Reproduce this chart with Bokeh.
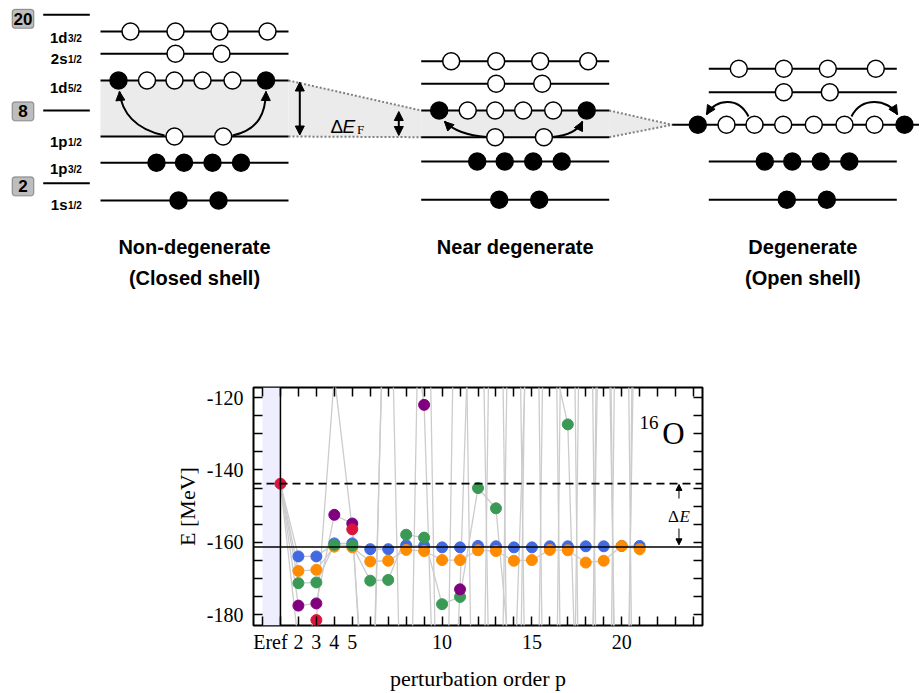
import math
from bokeh.plotting import figure
from bokeh.models import (Range1d, FixedTicker, LinearAxis, Label, Span, BoxAnnotation,
                          Arrow, NormalHead)
from bokeh.core.properties import value
from bokeh.embed import file_html
from bokeh.resources import INLINE

# ------------------------------------------------------------------
# Data: perturbation series for 16O  (order 1 = E_ref)
# ------------------------------------------------------------------
p_orders = list(range(1, 22))
E_blue = [-143.8, -163.9, -163.9, -160.3, -160.3, -161.9, -161.9, -160.8, -161.0, -161.4, -161.4,
          -161.0, -161.1, -161.4, -161.4, -161.1, -161.1, -161.1, -161.1, -161.0, -161.0]
E_orange = [-143.8, -167.9, -167.6, -161.2, -161.4, -165.3, -165.1, -162.1, -162.4, -164.9, -164.9,
            -162.2, -162.4, -165.1, -164.9, -162.1, -162.2, -165.6, -165.1, -161.0, -161.9]
E_green = [-143.8, -171.3, -171.1, -160.7, -160.9, -170.6, -170.4, -157.9, -158.7, -177.1, -175.1,
           -145.0, -150.6, -205.0, -60.0, -105.0, -127.4, -290.0, -20.0, -300.0, -10.0]
E_purple = [-143.8, -177.5, -176.9, -152.4, -154.8, -240.0, -40.0, -85.0, -122.0, -275.0, -173.0,
            -20.0, -310.0, 10.0, -330.0, 30.0, -350.0, 40.0, -370.0, 60.0, -390.0]
E_red = [-143.8, -188.0, -181.5, -114.0, -156.4, -230.0, -50.0, -280.0, -10.0, -300.0, 10.0,
         -320.0, 30.0, -340.0, 40.0, -360.0, 60.0, -380.0, 80.0, -400.0, 100.0]
series = [E_blue, E_orange, E_green, E_purple, E_red]
series_colors = ["#4169E1", "#FF8C00", "#3A9A55", "#800080", "#DC143C"]
E_ref = -143.8
E_exact = -161.3
NB = "\u00a0"
x_tick_labels = {1: "Eref" + NB * 4, 2: "2", 3: "3", 4: "4", 5: "5", 10: "10", 15: "15", 20: "20"}
y_tick_labels = {-180: "-180", -160: "-160", -140: "-140", -120: "-120"}

# ------------------------------------------------------------------
# Data: shell-model schematic
# ------------------------------------------------------------------
level_names = ["1d", "2s", "1d", "1p", "1p", "1s"]
level_subs = ["3/2", "1/2", "5/2", "1/2", "3/2", "1/2"]
slot_pos = [[30, 75, 119, 167], [75, 121], [18, 46.5, 74, 102, 132, 165.5],
            [74, 122.7], [56, 83.5, 112, 140.5], [78, 118]]
slot_fill = [[0, 0, 0, 0], [0, 0], [1, 0, 0, 0, 0, 1], [0, 0], [1, 1, 1, 1], [1, 1]]
merged_pos = [-11, 17.7, 45.7, 74.4, 105, 135.7, 165.7, 195.7]
merged_fill = [1, 0, 0, 0, 0, 0, 0, 1]
panel_x0 = [100, 420.7, 708.3]
level_len = 188
panel_levels = [[31, 53.3, 80, 136, 162.3, 200],
                [60.7, 83.3, 110, 136.7, 161, 199.3],
                [68.3, 91.7, 124.3, 124.3, 161, 199.3]]
panel_titles = [["Non-degenerate", "(Closed shell)"], ["Near degenerate"], ["Degenerate", "(Open shell)"]]
magic_numbers = ["20", "8", "2"]
magic_line_y = [14.3, 110, 182.7]
magic_box_y = [18.3, 110.8, 185.8]

SANS = "Liberation Sans"
SERIF = "Liberation Serif"

# ------------------------------------------------------------------
# Top: schematic figure (pixel-like coordinates, y downwards)
# ------------------------------------------------------------------
d = figure(width=919, height=330, x_range=Range1d(0, 919), y_range=Range1d(330, 0),
           output_backend="svg", toolbar_location=None, x_axis_location=None,
           y_axis_location=None, min_border=0)
d.grid.visible = False
d.outline_line_color = None
d.background_fill_color = "white"
d.border_fill_color = "white"

x0a, x0b, x0c = panel_x0
L1, L2, L3 = panel_levels
grey = "#ebebeb"
d.patch([x0a, x0a + level_len, x0a + level_len, x0a], [L1[2], L1[2], L1[3], L1[3]],
        fill_color=grey, line_color=None)
d.patch([x0a + level_len, x0b, x0b, x0a + level_len], [L1[2], L2[2], L2[3], L1[3]],
        fill_color=grey, line_color=None)
d.patch([x0b, x0b + level_len, x0b + level_len, x0b], [L2[2], L2[2], L2[3], L2[3]],
        fill_color=grey, line_color=None)
tip_x = 671.7
d.patch([x0b + level_len, tip_x, x0b + level_len], [L2[2], L3[2], L2[3]],
        fill_color=grey, line_color=None)
dot_kw = dict(line_color="#808080", line_width=2, line_dash="2 2")
d.line([x0a + level_len, x0b], [L1[2], L2[2]], **dot_kw)
d.line([x0a + level_len, x0b], [L1[3], L2[3]], **dot_kw)
d.line([x0b + level_len, tip_x], [L2[2], L3[2]], **dot_kw)
d.line([x0b + level_len, tip_x], [L2[3], L3[2]], **dot_kw)

sx0, sy0, sx1, sy1 = [], [], [], []
for pi_, (x0, levs) in enumerate(zip(panel_x0, panel_levels)):
    for li, y in enumerate(levs):
        if pi_ == 2 and li in (2, 3):
            continue
        sx0.append(x0); sx1.append(x0 + level_len); sy0.append(y); sy1.append(y)
sx0.append(tip_x); sx1.append(919); sy0.append(L3[2]); sy1.append(L3[2])
for y in magic_line_y:
    sx0.append(42.7); sx1.append(89.3); sy0.append(y); sy1.append(y)
d.segment(sx0, sy0, sx1, sy1, line_color="black", line_width=2)

curves = [((164, 135), (135, 129), (121, 112), (119, 91)),
          ((232, 135), (259, 129), (265, 112), (265.5, 91)),
          ((486, 136.5), (466, 135), (452, 129), (444, 121)),
          ((552, 136.5), (570, 135), (578, 129), (582, 121)),
          ((748, 116), (738, 96), (716, 98), (706, 114)),
          ((851, 116), (861, 96), (887, 98), (897, 114))]
for s, c1, c2, e in curves:
    d.bezier(x0=[s[0]], y0=[s[1]], x1=[e[0]], y1=[e[1]], cx0=[c1[0]], cy0=[c1[1]],
             cx1=[c2[0]], cy1=[c2[1]], line_color="black", line_width=2)
    tx, ty = e[0] - c2[0], e[1] - c2[1]
    n = math.hypot(tx, ty)
    d.add_layout(Arrow(end=NormalHead(size=9, fill_color="black", line_color="black"),
                       x_start=e[0] - 3 * tx / n, y_start=e[1] - 3 * ty / n, x_end=e[0], y_end=e[1],
                       line_color="black", line_width=2))

cx, cy, cf = [], [], []
for pi_, (x0, levs) in enumerate(zip(panel_x0, panel_levels)):
    if pi_ < 2:
        for li, y in enumerate(levs):
            for pos, f in zip(slot_pos[li], slot_fill[li]):
                cx.append(x0 + pos); cy.append(y); cf.append("black" if f else "white")
    else:
        for li in (0, 1, 4, 5):
            for pos, f in zip(slot_pos[li], slot_fill[li]):
                cx.append(x0 + pos); cy.append(levs[li]); cf.append("black" if f else "white")
        for pos, f in zip(merged_pos, merged_fill):
            cx.append(x0 + pos); cy.append(levs[2]); cf.append("black" if f else "white")
d.scatter(cx, cy, size=17, marker="circle", fill_color=cf, line_color="black", line_width=1.5)

for xa, ya, yb in [(299.3, 81.5, 134.5), (398.3, 111, 135)]:
    d.add_layout(Arrow(start=NormalHead(size=9, fill_color="black", line_color="black"),
                       end=NormalHead(size=9, fill_color="black", line_color="black"),
                       x_start=xa, y_start=ya, x_end=xa, y_end=yb,
                       line_color="black", line_width=2))
d.text([330], [126], text=["\u0394"], text_font=value(SANS), text_font_size="19px",
       text_align="left", text_baseline="alphabetic", text_color="black")
d.text([342], [126], text=["E"], text_font=value(SANS), text_font_size="19px",
       text_font_style="italic", text_align="left", text_baseline="alphabetic", text_color="black")
d.text([356.5], [128.5], text=["F"], text_font=value(SERIF), text_font_size="13px",
       text_align="left", text_baseline="alphabetic", text_color="black")

for lab, yb in zip(magic_numbers, magic_box_y):
    d.add_layout(BoxAnnotation(left=11.7, right=33.3, top=yb - 9.5, bottom=yb + 9.5,
                               fill_color="#bdbdbd", fill_alpha=1, line_color="black",
                               line_width=1.3, border_radius=3, level="underlay"))
d.text([22.5] * 3, magic_box_y, text=magic_numbers, text_font=value(SANS), text_font_size="17px",
       text_font_style="bold", text_align="center", text_baseline="middle", text_color="black")

label_base = [37.3, 58.3, 87.3, 141, 167.7, 204]
d.text([67] * 6, label_base, text=level_names, text_font=value(SANS), text_font_size="15px",
       text_font_style="bold", text_align="right", text_baseline="alphabetic", text_color="black")
d.text([67.5] * 6, [b + 1 for b in label_base], text=level_subs, text_font=value(SANS),
       text_font_size="10px", text_font_style="bold", text_align="left",
       text_baseline="alphabetic", text_color="black")

tx_, ty_, tt_ = [], [], []
for x0, lines in zip(panel_x0, panel_titles):
    for k, t in enumerate(lines):
        tx_.append(x0 + level_len / 2); ty_.append(246 + 31 * k); tt_.append(t)
d.text(tx_, ty_, text=tt_, text_font=value(SANS), text_font_size="20px", text_font_style="bold",
       text_align="center", text_baseline="middle", text_color="black")

# ------------------------------------------------------------------
# Bottom: perturbation series plot
# ------------------------------------------------------------------
p = figure(width=919, height=363, x_range=Range1d(-0.5, 24.5), y_range=Range1d(-183.0, -117.2),
           output_backend="svg", toolbar_location=None,
           min_border_left=253, min_border_right=217, min_border_top=57, min_border_bottom=68)
p.grid.visible = False
p.outline_line_color = "black"
p.outline_line_width = 2
p.background_fill_color = "white"
p.border_fill_color = "white"

xt = list(range(0, 25))
yt = list(range(-180, -115, 5))

def style_axis(ax, ticks, overrides, size="20px"):
    ax.ticker = FixedTicker(ticks=ticks, minor_ticks=[])
    ax.major_label_overrides = overrides
    ax.major_tick_in = 9
    ax.major_tick_out = 0
    ax.minor_tick_line_color = None
    ax.axis_line_color = None
    ax.major_tick_line_color = "black"
    ax.major_tick_line_width = 1.5
    ax.major_label_text_font = SERIF
    ax.major_label_text_font_size = size
    ax.major_label_text_color = "black"
    ax.axis_label_text_font = SERIF
    ax.axis_label_text_font_style = "normal"
    ax.axis_label_text_font_size = "22px"
    ax.axis_label_text_color = "black"

style_axis(p.xaxis[0], xt, {i: x_tick_labels.get(i, "") for i in xt})
p.xaxis[0].major_label_standoff = 5
p.xaxis[0].axis_label = "perturbation order p"
p.xaxis[0].axis_label_standoff = 10
style_axis(p.yaxis[0], yt, {i: y_tick_labels.get(i, "") for i in yt})
p.yaxis[0].major_label_standoff = 10
p.yaxis[0].axis_label = "E [MeV]"
p.yaxis[0].axis_label_standoff = 4
top_ax = LinearAxis()
style_axis(top_ax, xt, {i: "" for i in xt}, size="0px")
p.add_layout(top_ax, "above")
right_ax = LinearAxis()
style_axis(right_ax, yt, {i: "" for i in yt}, size="0px")
p.add_layout(right_ax, "right")

p.add_layout(BoxAnnotation(left=0, right=1, fill_color="#eeeeff", fill_alpha=1,
                           line_color=None, level="underlay"))
p.add_layout(Span(location=1, dimension="height", line_color="black", line_width=1.5))
p.add_layout(Span(location=E_exact, dimension="width", line_color="black", line_width=1.5))
p.add_layout(Span(location=E_ref, dimension="width", line_color="black", line_width=1.8,
                  line_dash="8 5"))

for ys in series:
    p.line(p_orders, ys, line_color="#cccccc", line_width=1.3)
for ys, c in zip(series, series_colors):
    if c == "#DC143C":
        p.scatter(p_orders, ys, size=11, marker="circle", fill_color=c, line_color=c)
    else:
        p.scatter(p_orders[1:], ys[1:], size=11, marker="circle", fill_color=c, line_color=c)

# 16O
p.add_layout(Label(x=20.99, y=-126.8, text="16", text_font=SERIF, text_font_size="19px",
                   text_align="left", text_baseline="alphabetic", text_color="black"))
p.add_layout(Label(x=22.26, y=-130.0, text="O", text_font=SERIF, text_font_size="31px",
                   text_align="left", text_baseline="alphabetic", text_color="black"))
# Delta E
p.add_layout(Label(x=23.19, y=-152.9, text="\u0394", text_font=SERIF, text_font_size="17px",
                   text_align="right", text_baseline="middle", text_color="black"))
p.add_layout(Label(x=23.22, y=-152.9, text="E", text_font=SERIF, text_font_style="italic",
                   text_font_size="17px", text_align="left", text_baseline="middle",
                   text_color="black"))
for ya, yb in [(-147.9, -144.0), (-156.2, -160.7)]:
    p.add_layout(Arrow(end=NormalHead(size=6, fill_color="black", line_color="black"),
                       x_start=23.19, y_start=ya, x_end=23.19, y_end=yb,
                       line_color="black", line_width=1))

open("out.html", "w").write(file_html([d, p], INLINE))
